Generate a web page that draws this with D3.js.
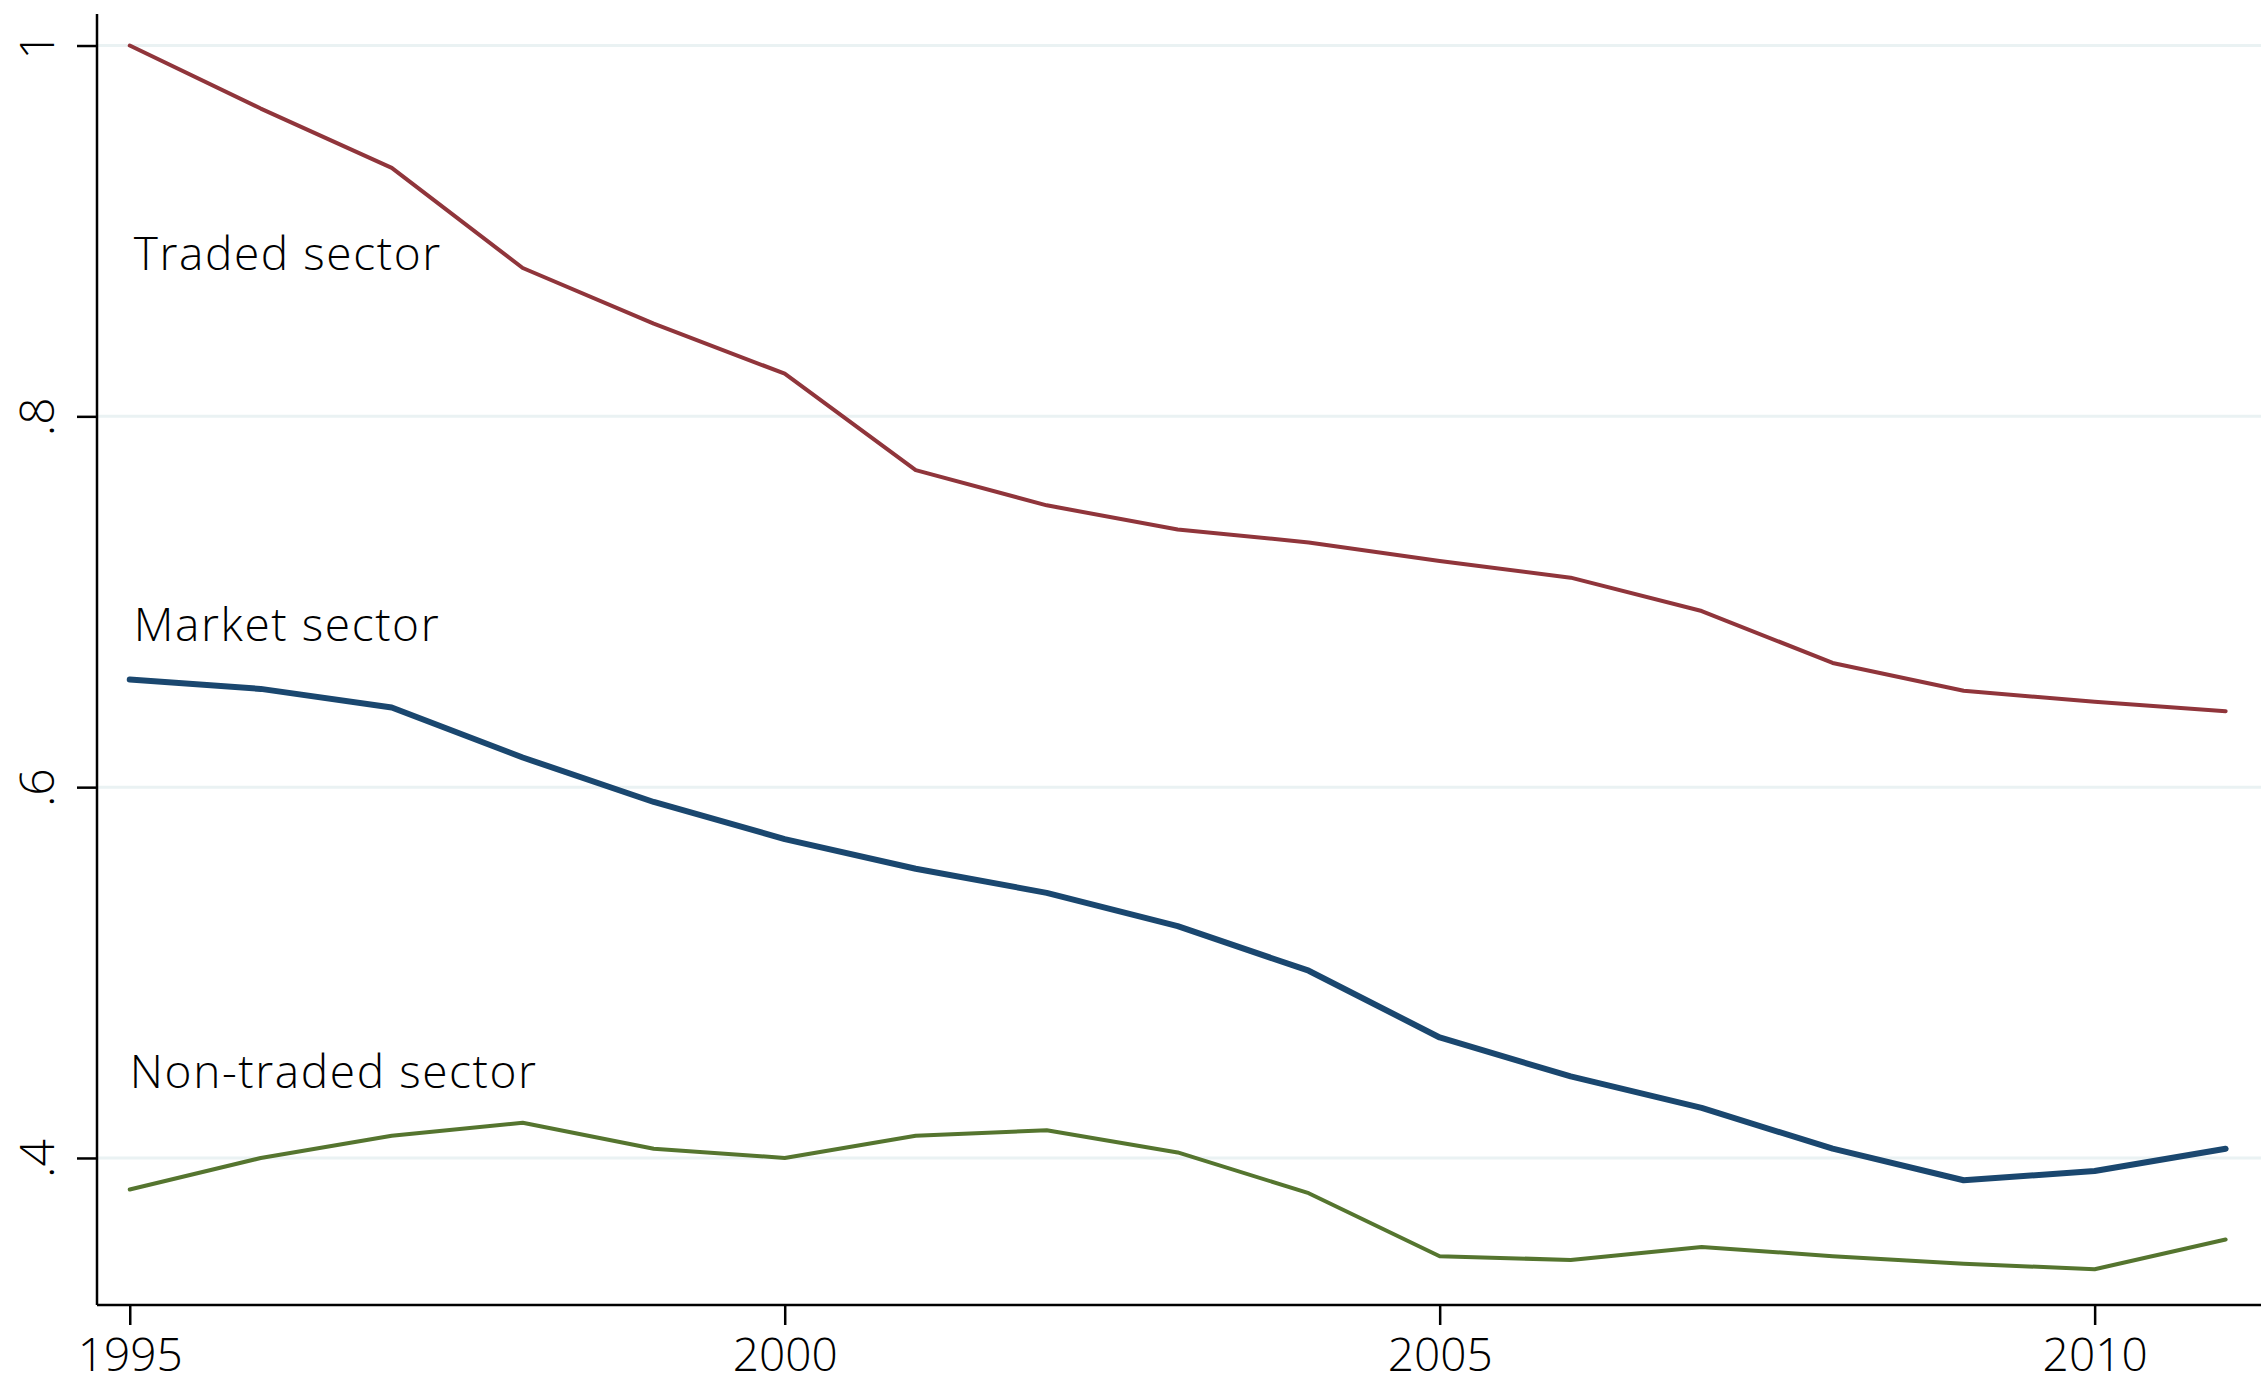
<!DOCTYPE html>
<html>
<head>
<meta charset="utf-8">
<script src="https://cdn.jsdelivr.net/npm/d3@7"></script>
<style>
  body { margin: 0; background: #fff; }
  text { font-family: "Open Sans", Lato, sans-serif; font-weight: 300; fill: #000; }
</style>
</head>
<body>
<div id="chart"></div>
<script>
// chart size
const width = 2261
const height = 1383

// data
const years = d3.range(1995, 2012)
const traded = [1.000, 0.966, 0.934, 0.880, 0.850, 0.823, 0.771, 0.752, 0.739, 0.732, 0.722, 0.713, 0.695, 0.667, 0.652, 0.646, 0.641]
const market = [0.658, 0.653, 0.643, 0.616, 0.592, 0.572, 0.556, 0.543, 0.525, 0.501, 0.465, 0.444, 0.427, 0.405, 0.388, 0.393, 0.405]
const nonTraded = [0.383, 0.400, 0.412, 0.419, 0.405, 0.400, 0.412, 0.415, 0.403, 0.381, 0.347, 0.345, 0.352, 0.347, 0.343, 0.340, 0.356]
const xTicks = [1995, 2000, 2005, 2010]
const yTicks = [0.4, 0.6, 0.8, 1]
const yTickLabels = [".4", ".6", ".8", "1"]

const series = [
  { name: "Traded sector", values: traded, color: "#90353b", width: 4, label: [1995, 0.879] },
  { name: "Market sector", values: market, color: "#1a476f", width: 6, label: [1995, 0.679] },
  { name: "Non-traded sector", values: nonTraded, color: "#55752f", width: 4, label: [1994.97, 0.438] }
]

const margin = { left: 97, right: 0, top: 14, bottom: 78 }

const x = d3.scaleLinear()
  .domain([1994.75, 2011.27])
  .range([margin.left, width - margin.right])

const y = d3.scaleLinear()
  .domain([0.3207, 1.017])
  .range([height - margin.bottom, margin.top])

const svg = d3.select("#chart")
  .append("svg")
    .attr("width", width)
    .attr("height", height)

// gridlines
svg.append("g")
  .selectAll("line")
  .data(yTicks)
  .join("line")
    .attr("x1", margin.left)
    .attr("x2", width)
    .attr("y1", d => y(d))
    .attr("y2", d => y(d))
    .attr("stroke", "#eaf2f3")
    .attr("stroke-width", 3)

// y axis
const yAxis = svg.append("g")
  .attr("transform", `translate(${margin.left},0)`)
  .call(d3.axisLeft(y).tickValues(yTicks).tickSize(20).tickFormat((d, i) => yTickLabels[i]))
yAxis.select(".domain").attr("stroke", "#000").attr("stroke-width", 2.5)
  .attr("d", `M0,${y.range()[1]}V${y.range()[0]}`)
yAxis.selectAll(".tick line").attr("stroke", "#000").attr("stroke-width", 2.5)
yAxis.selectAll(".tick text")
  .attr("x", null).attr("dy", null)
  .attr("transform", "translate(-43,0) rotate(-90)")
  .attr("text-anchor", "middle")
  .style("font-size", "48px")
  .style("font-family", "'Open Sans', sans-serif")
  .style("font-weight", 300)

// x axis
const xAxis = svg.append("g")
  .attr("transform", `translate(0,${height - margin.bottom})`)
  .call(d3.axisBottom(x).tickValues(xTicks).tickSize(20).tickFormat(d3.format("d")))
xAxis.select(".domain").attr("stroke", "#000").attr("stroke-width", 2.5)
  .attr("d", `M${x.range()[0]},0H${x.range()[1]}`)
xAxis.selectAll(".tick line").attr("stroke", "#000").attr("stroke-width", 2.5)
xAxis.selectAll(".tick text")
  .attr("y", 66).attr("dy", null)
  .style("font-size", "46px")
  .style("font-family", "'Open Sans', sans-serif")
  .style("font-weight", 300)

// lines
const line = d3.line()
  .x((d, i) => x(years[i]))
  .y(d => y(d))

svg.append("g")
  .selectAll("path")
  .data(series)
  .join("path")
    .attr("d", d => line(d.values))
    .attr("fill", "none")
    .attr("stroke", d => d.color)
    .attr("stroke-width", d => d.width)
    .attr("stroke-linejoin", "round")
    .attr("stroke-linecap", "round")

// in-plot labels
svg.append("g")
  .selectAll("text")
  .data(series)
  .join("text")
    .attr("x", d => x(d.label[0]) + 4)
    .attr("y", d => y(d.label[1]))
    .style("font-size", "46px")
    .style("letter-spacing", "1.6px")
    .text(d => d.name)
</script>
</body>
</html>
